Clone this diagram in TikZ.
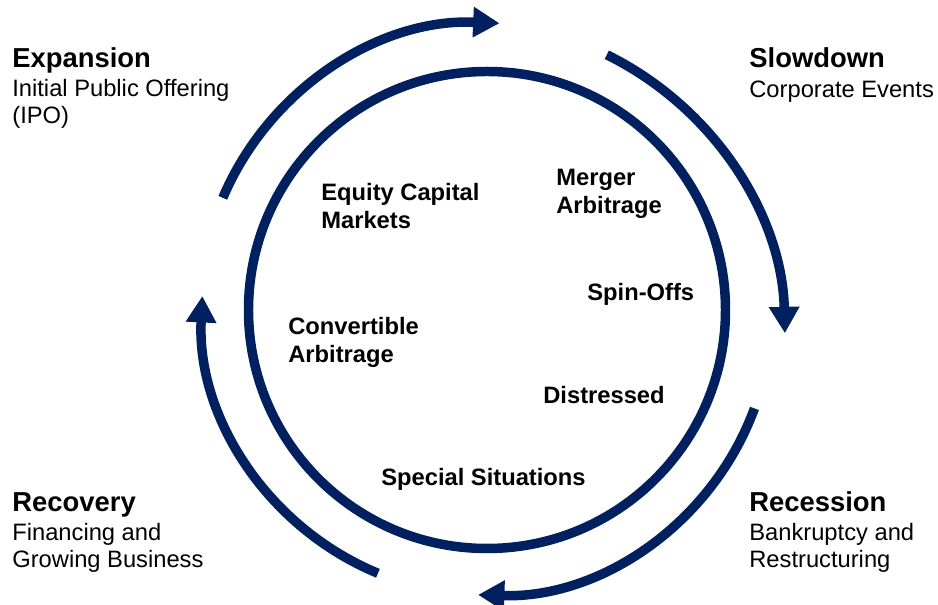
\documentclass[tikz,border=0pt]{standalone}
\usepackage{fontspec}
\setmainfont{Liberation Sans}
\usetikzlibrary{arrows.meta}
\definecolor{cyclenavy}{RGB}{0,32,96}
\tikzset{
  cyclearc/.style={draw=cyclenavy, line width=5.4pt, -{Triangle[length=15pt,width=16.5pt]}},
  phasetitle/.style={anchor=base west, inner sep=0pt, font=\fontsize{15.6}{16}\selectfont\bfseries},
  phasetext/.style={anchor=base west, inner sep=0pt, align=left, font=\fontsize{13.5}{15.4}\selectfont},
  strategy/.style={anchor=base west, inner sep=0pt, align=left, font=\fontsize{13.5}{16}\selectfont\bfseries}
}

\begin{document}
\begin{tikzpicture}[x=0.02cm,y=0.02cm]
  \useasboundingbox (0,0) rectangle (938,605);

  % Inner circle
  \coordinate (centre) at (487,295);
  \draw[cyclenavy, line width=5.4pt] (centre) circle (238.5);

  % Outer arrows, clockwise
  \draw[cyclearc] (centre) ++(157:287) arc[start angle=157, end angle=87.5, radius=287]; % expansion
  \coordinate (rightcentre) at (466,264);
  \draw[cyclearc] (rightcentre) ++(63.8:319) arc[start angle=63.8, end angle=1.4, radius=319]; % slowdown
  \draw[cyclearc] (centre) ++(-20.2:285) arc[start angle=-20.2, end angle=-91.8, radius=285]; % recession
  \draw[cyclearc] (centre) ++(247.5:285) arc[start angle=247.5, end angle=177.2, radius=285]; % recovery

  % Phases (multi-line nodes sit on their last line)
  \node[phasetitle] (expansion) at (12,537) {Expansion};
  \node[phasetext] (ipo) at (12,481) {Initial Public Offering\\(IPO)};
  \node[phasetitle] (slowdown) at (749,537) {Slowdown};
  \node[phasetext] (events) at (749,507) {Corporate Events};
  \node[phasetitle] (recovery) at (12,93) {Recovery};
  \node[phasetext] (financing) at (12,37) {Financing and\\Growing Business};
  \node[phasetitle] (recession) at (749,93) {Recession};
  \node[phasetext] (bankruptcy) at (749,37) {Bankruptcy and\\Restructuring};

  % Strategies inside the circle
  \node[strategy] (ecm) at (321,376) {Equity Capital\\Markets};
  \node[strategy] (merger) at (556,391) {Merger\\Arbitrage};
  \node[strategy] (spinoffs) at (587,304) {Spin-Offs};
  \node[strategy] (convertible) at (288,242) {Convertible\\Arbitrage};
  \node[strategy] (distressed) at (543,201) {Distressed};
  \node[strategy] (special) at (381,119) {Special Situations};
\end{tikzpicture}
\end{document}
